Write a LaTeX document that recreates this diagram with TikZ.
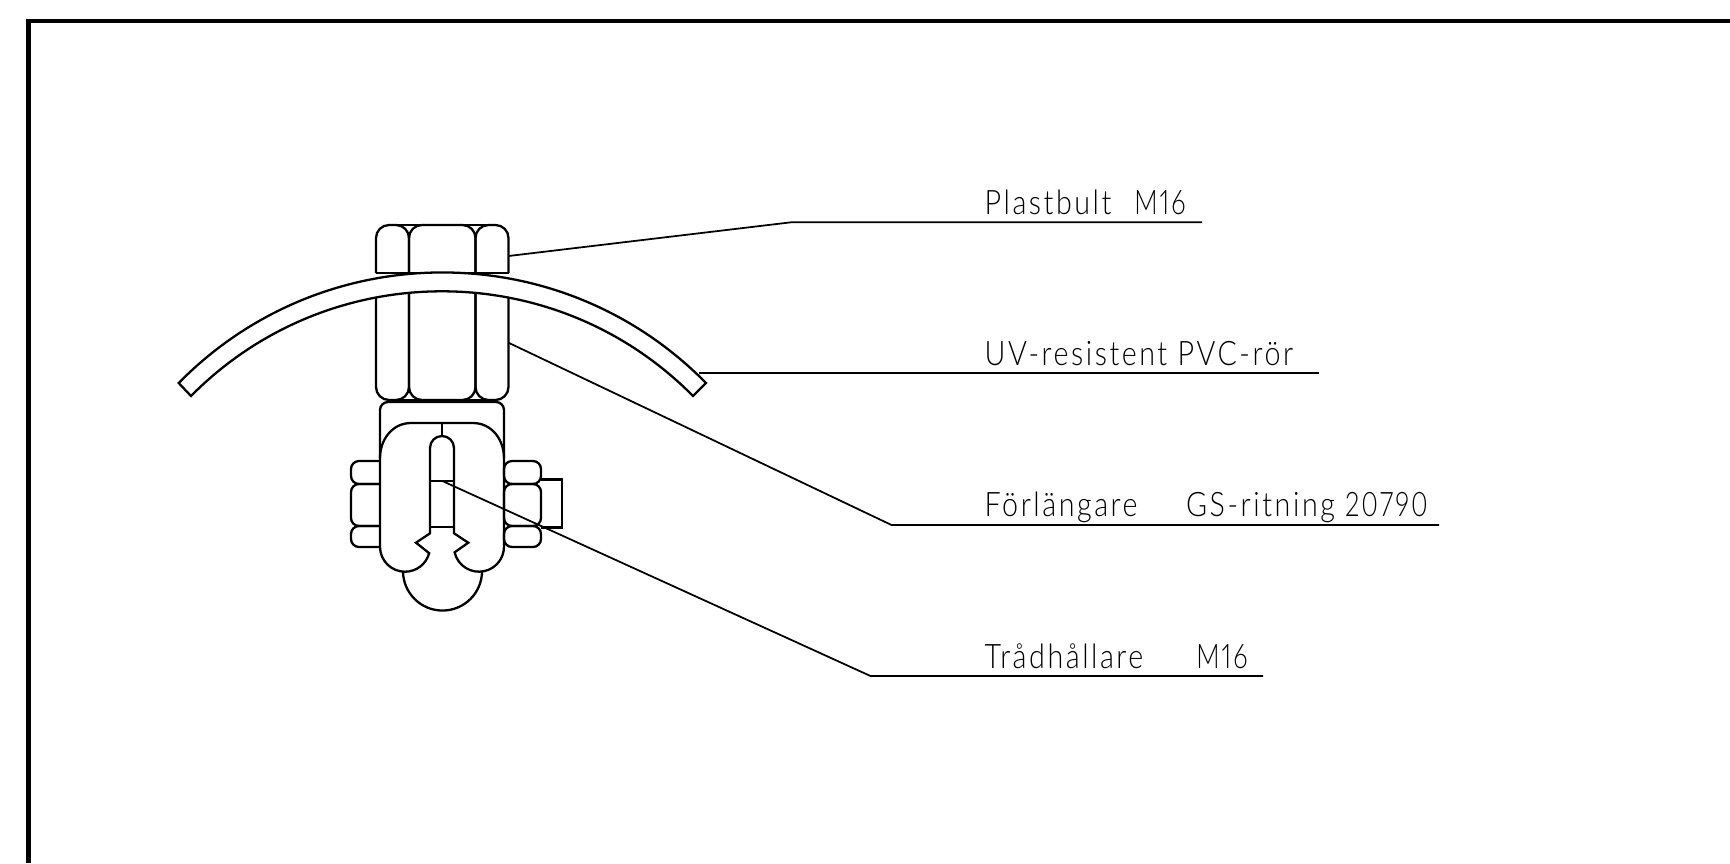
\documentclass[tikz,border=0pt]{standalone}
\usepackage{fontspec}
\setmainfont{Lato Light}[LetterSpace=7.5, FakeStretch=0.85, Numbers=Proportional]
\newfontfamily\numfont{Lato Light}[LetterSpace=6, FakeStretch=0.76, Numbers=Proportional]
\tikzset{
  part/.style={line width=0.65pt, black},
  roundpart/.style={part, rounded corners=0.13cm},
  smallpart/.style={part, rounded corners=0.08cm},
  leader/.style={line width=0.5pt, black},
  lbl/.style={anchor=base west, inner sep=0pt, font=\fontsize{9.6}{11}\selectfont}
}
\begin{document}
\begin{tikzpicture}[x=0.01cm, y=-0.01cm]
\useasboundingbox (0,0) rectangle (1730,863);
% frame
\draw[line width=1.37pt] (1730,21) -- (28.3,21) -- (28.3,863);
% nut on top of the pipe
\draw[roundpart] (376,273) -- (376,225) -- (409,225) -- (409,273);
\draw[roundpart] (409,273) -- (409,225) -- (475.5,225) -- (475.5,273);
\draw[roundpart] (475.5,273) -- (475.5,225) -- (508.5,225) -- (508.5,273);
\draw[part] (389,225) -- (495.5,225);
\draw[part] (376,273) -- (508.5,273);
% pipe
\fill[white] (178.7,383) .. controls (323.6,235.6) and (561.2,235.6) .. (706,383) -- (693,396) .. controls (555,256.4) and (329,256.4) .. (191,396) -- cycle;
\draw[part] (178.7,383) .. controls (323.6,235.6) and (561.2,235.6) .. (706,383) -- (693,396) .. controls (555,256.4) and (329,256.4) .. (191,396) -- cycle;
% shaft below the pipe
\draw[roundpart] (376,297.5) -- (376,400) -- (409,400) -- (409,293);
\draw[roundpart] (409,293) -- (409,400) -- (475.5,400) -- (475.5,293);
\draw[roundpart] (475.5,293) -- (475.5,400) -- (508.5,400) -- (508.5,297.5);
\draw[part] (389,400) -- (495.5,400);
% extender
\draw[smallpart] (380,458) -- (380,402) -- (504,402) -- (504,458);
% side nut, left
\draw[smallpart] (380,461) -- (351,461) -- (351,484) -- (380,484);
\draw[smallpart] (380,484) -- (351,484) -- (351,526) -- (380,526);
\draw[smallpart] (380,526) -- (351,526) -- (351,547) -- (380,547);
% side nut, right
\draw[smallpart] (504,461) rectangle (541,484);
\draw[smallpart] (504,484) rectangle (541,526);
\draw[smallpart] (504,526) rectangle (541,547);
\draw[part] (541,479.5) -- (562,479.5) -- (562,527.5) -- (541,527.5);
% wire holder
\draw[part] (380,546.7) arc[start angle=180, end angle=345, radius=0.25cm]
  -- (416,542.7) -- (430,533.3) -- (430,448) arc[start angle=180, end angle=0, radius=0.12cm]
  -- (454,533.3) -- (468.3,542.7) -- (454.6,552.3) arc[start angle=193, end angle=360, radius=0.25cm]
  -- (504,458) .. controls (504,440) and (492,423) .. (473,423) -- (411,423)
  .. controls (392,423) and (380,440) .. (380,458) -- cycle;
\draw[part] (403,571) arc[start angle=180, end angle=360, radius=0.395cm];
\draw[part] (442,423) -- (442,436);
\draw[part] (430,480.7) -- (454,480.7);
\draw[part] (430,527.3) -- (454,527.3);
% labels
\node[lbl] (bolt) at (984,214.2) {Plastbult\hspace{6.5pt}{\numfont M16}};
\node[lbl] (pipe) at (984,365.5) {UV-resistent PVC-rör};
\node[lbl] (extender) at (984,516.5) {Förlängare\hspace{13.8pt}GS-ritning {\numfont 20790}};
\node[lbl] (holder) at (984,668.8) {Trådhållare\hspace{15.1pt}{\numfont M16}};
% leaders
\coordinate (boltend) at (508.5,256);
\coordinate (boltbend) at (791,222.3);
\coordinate (boltfree) at (1202,222.3);
\coordinate (pipeend) at (699,373.3);
\coordinate (pipefree) at (1319,373.3);
\coordinate (extenderend) at (508.5,342.7);
\coordinate (extenderbend) at (891.5,525);
\coordinate (extenderfree) at (1439,525);
\coordinate (holderend) at (441.7,480.7);
\coordinate (holderbend) at (870.5,676);
\coordinate (holderfree) at (1263,676);
\draw[leader] (boltend) -- (boltbend) -- (boltfree);
\draw[leader] (pipeend) -- (pipefree);
\draw[leader] (extenderend) -- (extenderbend) -- (extenderfree);
\draw[leader] (holderend) -- (holderbend) -- (holderfree);
\end{tikzpicture}
\end{document}
